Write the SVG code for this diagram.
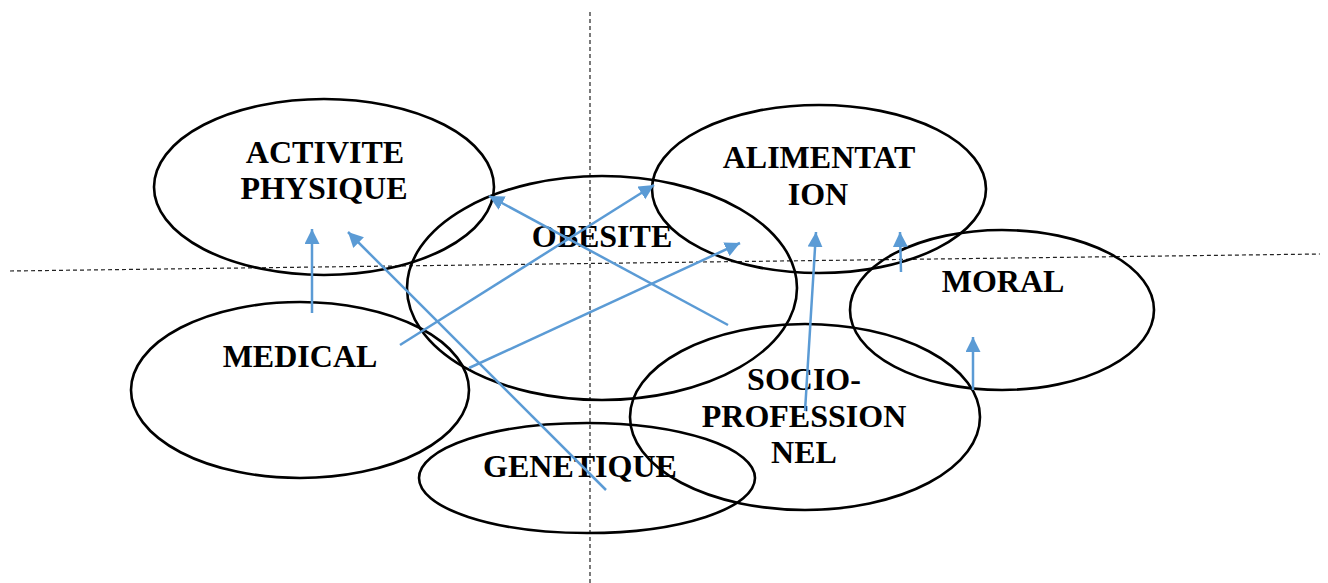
<svg xmlns="http://www.w3.org/2000/svg" width="1328" height="583" viewBox="0 0 1328 583">
<style>
.axis{stroke:#222;stroke-width:1.2;stroke-dasharray:4 3;fill:none}
.node ellipse{fill:none;stroke:#000;stroke-width:2.6}
.node text{font-family:"Liberation Serif","Times New Roman",serif;font-weight:bold;font-size:32px;fill:#000;text-anchor:middle}
.conn line{stroke:#5B9BD5;stroke-width:2.5;marker-end:url(#ah)}
</style>
<defs>
<marker id="ah" markerUnits="userSpaceOnUse" markerWidth="16" markerHeight="16" refX="15" refY="7.5" orient="auto">
<path d="M0,0 L15,7.5 L0,15 Z" fill="#5B9BD5"/>
</marker>
</defs>
<rect width="1328" height="583" fill="#fff"/>
<g id="axes">
<line class="axis" x1="590" y1="12" x2="590" y2="583"/>
<line class="axis" x1="10" y1="271" x2="1320" y2="254"/>
</g>
<g id="node-activite" class="node">
<ellipse cx="324" cy="187" rx="170" ry="88"/>
<text x="325" y="163">ACTIVITE</text>
<text x="324" y="199">PHYSIQUE</text>
</g>
<g id="node-obesite" class="node">
<ellipse cx="602" cy="288" rx="195" ry="112"/>
<text x="602" y="247">OBESITE</text>
</g>
<g id="node-alimentation" class="node">
<ellipse cx="819" cy="189" rx="167" ry="84"/>
<text x="819" y="168">ALIMENTAT</text>
<text x="818" y="205">ION</text>
</g>
<g id="node-moral" class="node">
<ellipse cx="1002" cy="310" rx="152" ry="80"/>
<text x="1003" y="292">MORAL</text>
</g>
<g id="node-medical" class="node">
<ellipse cx="300" cy="390" rx="169" ry="88"/>
<text x="300" y="367">MEDICAL</text>
</g>
<g id="node-socio" class="node">
<ellipse cx="805" cy="417" rx="175" ry="93"/>
<text x="804" y="390">SOCIO-</text>
<text x="804" y="427">PROFESSION</text>
<text x="804" y="463">NEL</text>
</g>
<g id="node-genetique" class="node">
<ellipse cx="587" cy="478" rx="168" ry="55"/>
<text x="580" y="477">GENETIQUE</text>
</g>
<g id="connectors" class="conn">
<line x1="312" y1="313" x2="312" y2="229"/>
<line x1="606" y1="490" x2="348" y2="232"/>
<line x1="400" y1="345" x2="654" y2="185"/>
<line x1="469" y1="368" x2="740" y2="243"/>
<line x1="728" y1="325" x2="489" y2="196"/>
<line x1="805" y1="411" x2="816" y2="232"/>
<line x1="901" y1="272" x2="900" y2="232"/>
<line x1="973" y1="390" x2="973" y2="337"/>
</g>
</svg>
